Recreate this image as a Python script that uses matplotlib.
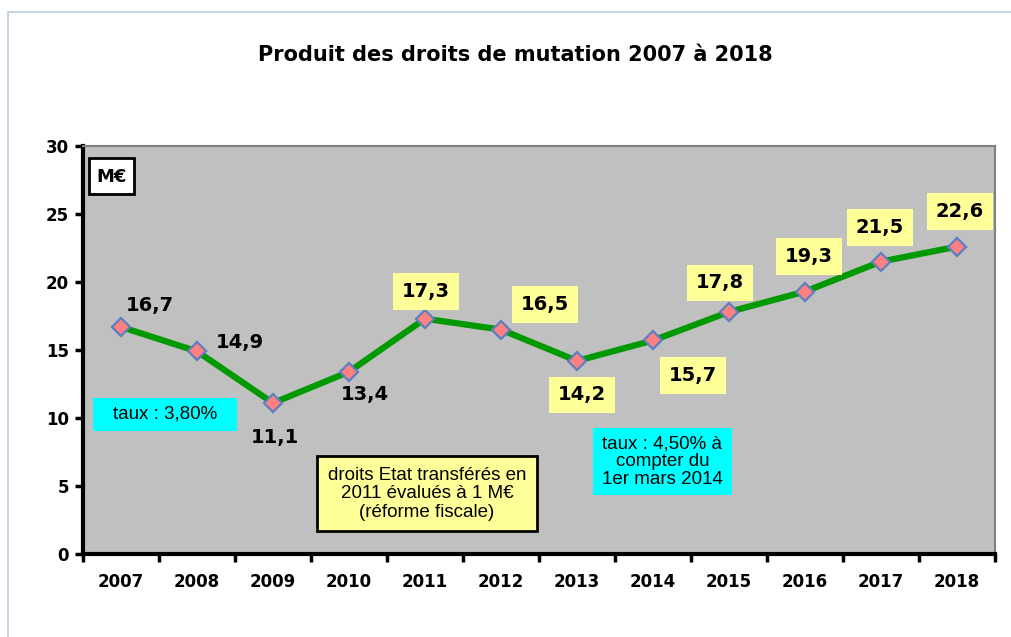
import matplotlib
matplotlib.use("Agg")
import matplotlib.pyplot as plt
from matplotlib.patches import Rectangle

years = ["2007", "2008", "2009", "2010", "2011", "2012", "2013", "2014", "2015", "2016", "2017", "2018"]
values = [16.7, 14.9, 11.1, 13.4, 17.3, 16.5, 14.2, 15.7, 17.8, 19.3, 21.5, 22.6]
value_labels = ["16,7", "14,9", "11,1", "13,4", "17,3", "16,5", "14,2", "15,7", "17,8", "19,3", "21,5", "22,6"]
boxed = [False, False, False, False, True, True, True, True, True, True, True, True]
label_offsets = [(29, 21), (43, 9), (2, -34), (16, -23), (1, 27), (44, 25),
                 (5, -34), (40, -35), (-9, 29), (4, 35), (-1, 34), (3, 35)]
title = "Produit des droits de mutation 2007 à 2018"

W, H = 1011, 637
fig = plt.figure(figsize=(W / 100, H / 100), dpi=100)
fig.patch.set_facecolor("white")


def fbox(x0, y0, x1, y1, **kw):
    # box given in pixel coordinates from the top-left corner
    r = Rectangle((x0 / W, 1 - y1 / H), (x1 - x0) / W, (y1 - y0) / H,
                  transform=fig.transFigure, **kw)
    fig.add_artist(r)
    return r


# outer frame
fig.add_artist(Rectangle((8 / W, -0.01), 1.02, 1 - 12 / H + 0.01, transform=fig.transFigure,
                         fill=False, edgecolor="#C9D3E3", linewidth=1.5))

ax = fig.add_axes([83 / W, 1 - 554 / H, (995 - 83) / W, (554 - 146) / H])
ax.set_facecolor("#C0C0C0")
x = list(range(len(years)))
ax.plot(x, values, color="#009900", linewidth=4.5, marker="D", markersize=9,
        markerfacecolor="#FF8080", markeredgecolor="#5B7FC0", markeredgewidth=1.6, zorder=3)

ax.set_xlim(-0.5, len(years) - 0.5)
ax.set_ylim(0, 30)
ax.set_yticks([0, 5, 10, 15, 20, 25, 30])
ax.set_xticks(x)
ax.set_xticklabels(years, fontsize=12, fontweight="bold")
ax.set_xticks([i - 0.5 for i in range(len(years) + 1)], minor=True)
ax.tick_params(axis="x", which="major", length=0, pad=14)
ax.tick_params(axis="x", which="minor", length=6, width=2.5, direction="out")
ax.tick_params(axis="y", length=6, width=2.5, direction="out", labelsize=12, pad=4)
for lab in ax.get_yticklabels():
    lab.set_fontweight("bold")

ax.spines["left"].set_linewidth(3)
ax.spines["bottom"].set_linewidth(3)
ax.spines["top"].set_color("#808080")
ax.spines["right"].set_color("#808080")
ax.spines["top"].set_linewidth(1.5)
ax.spines["right"].set_linewidth(1.5)

for xi, v, lab, b, off in zip(x, values, value_labels, boxed, label_offsets):
    kw = {}
    if b:
        kw["bbox"] = dict(boxstyle="square,pad=0.45", facecolor="#FFFF99", edgecolor="none")
    ax.annotate(lab, (xi, v), xytext=off, textcoords="offset pixels", ha="center", va="center",
                fontsize=14, fontweight="bold", color="black", zorder=4, **kw)

# M€ box
fbox(89, 158, 134, 194, facecolor="white", edgecolor="black", linewidth=2, zorder=5)
fig.text(111.5 / W, 1 - 177 / H, "M€", ha="center", va="center", fontsize=13, fontweight="bold", zorder=6)

# taux 3,80%
fbox(93, 398, 237, 431, facecolor="#00FFFF", edgecolor="none", zorder=5)
fig.text(165 / W, 1 - 414 / H, "taux : 3,80%", ha="center", va="center",
         fontsize=13.5, family="Liberation Sans", zorder=6)

# droits Etat box
fbox(317, 456, 537, 531, facecolor="#FFFF99", edgecolor="black", linewidth=2, zorder=5)
fig.text(427 / W, 1 - 494 / H, "droits Etat transférés en\n2011 évalués à 1 M€\n(réforme fiscale)",
         ha="center", va="center", fontsize=13.5, family="Liberation Sans", linespacing=1.1, zorder=6)

# taux 4,50%
fbox(593, 428, 732, 495, facecolor="#00FFFF", edgecolor="none", zorder=5)
fig.text(662.5 / W, 1 - 462 / H, "taux : 4,50% à\ncompter du\n1er mars 2014",
         ha="center", va="center", fontsize=13.5, family="Liberation Sans", linespacing=1.05, zorder=6)

fig.text(515 / W, 1 - 55 / H, title, ha="center", va="center", fontsize=15, fontweight="bold")

fig.savefig("out.png", dpi=100)
